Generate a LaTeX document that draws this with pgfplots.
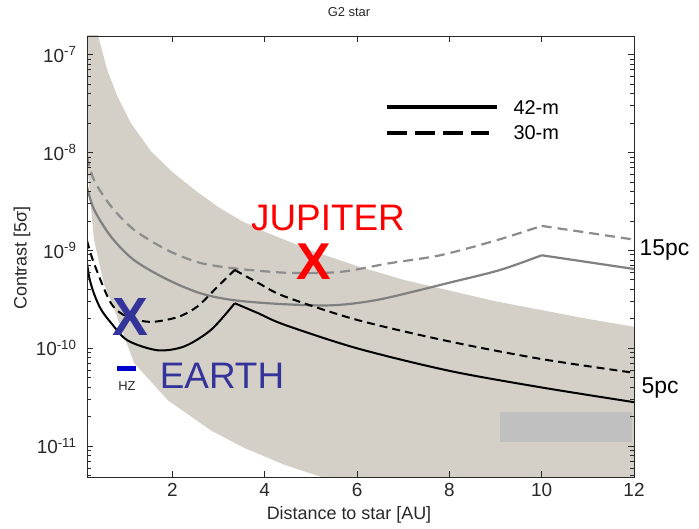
\documentclass[border=0pt]{standalone}
\usepackage{pgfplots}
\pgfplotsset{compat=1.18}
\usepackage{fontspec}
\setmainfont{Liberation Sans}
\definecolor{band}{RGB}{212,208,200}
\definecolor{rectgray}{RGB}{192,192,192}
\definecolor{curvegray}{RGB}{128,128,128}
\definecolor{dashgray}{RGB}{140,140,140}
\definecolor{earthblue}{RGB}{51,51,153}
\definecolor{hzblue}{RGB}{0,0,204}
\definecolor{axgray}{RGB}{40,40,40}
\begin{document}
\begin{tikzpicture}[x=1bp,y=1bp]
\useasboundingbox (0,0) rectangle (699,529);
\begin{axis}[
  at={(87bp,52bp)}, anchor=south west,
  scale only axis, width=547bp, height=441bp,
  xmin=0.15, xmax=12,
  ymode=log, ymin=4.85e-12, ymax=1.545e-7,
  axis on top,
  axis line style={axgray, line width=0.9bp},
  every tick/.style={axgray, line width=0.7bp},
  major tick length=6bp, minor tick length=4bp,
  xtick={2,4,6,8,10,12},
  xticklabels={2,4,6,8,10,12},
  minor xtick={},
  ytick={1e-11,1e-10,1e-9,1e-8,1e-7},
  yticklabels={10\textsuperscript{-11},10\textsuperscript{-10},10\textsuperscript{-9},10\textsuperscript{-8},10\textsuperscript{-7}},
  minor ytick={5e-12,6e-12,7e-12,8e-12,9e-12,2e-11,3e-11,4e-11,5e-11,6e-11,7e-11,8e-11,9e-11,2e-10,3e-10,4e-10,5e-10,6e-10,7e-10,8e-10,9e-10,2e-9,3e-9,4e-9,5e-9,6e-9,7e-9,8e-9,9e-9,2e-8,3e-8,4e-8,5e-8,6e-8,7e-8,8e-8,9e-8},
  tick label style={font=\fontsize{19}{22}\selectfont, text=axgray},
  yticklabel style={xshift=-7bp},
  xticklabel style={yshift=-3bp},
]
% gray band
\addplot[fill=band, draw=none] coordinates {
 (0.10,2.0e-6) (0.15,1.072e-6) (0.3,2.692e-7) (0.41,1.445e-7) (0.59,6.918e-8)
 (0.81,3.715e-8) (1.1,1.995e-8) (1.54,1.023e-8) (2.0,6.31e-9) (2.5,4.074e-9)
 (3.0,2.754e-9) (3.5,1.995e-9) (4.0,1.549e-9) (5.0,1.0e-9) (6.0,6.918e-10)
 (7.0,5.012e-10) (8.0,3.89e-10) (9.0,3.02e-10) (10.0,2.455e-10) (11.0,1.995e-10)
 (12.0,1.66e-10) (12.5,1.5e-10)
 (12.5,1e-12) (6.0,3.8e-12) (5.2,4.9e-12) (4.43,6.457e-12) (3.57,9.55e-12)
 (2.84,1.445e-11) (1.9,2.951e-11) (1.17,7.079e-11) (0.7,2.818e-10)
 (0.52,4.5e-10) (0.30,1.288e-9) (0.15,7.94e-9) (0.10,1.5e-8)
};
% gray rectangle
\addplot[fill=rectgray, draw=none] coordinates {
 (9.09,1.1e-11) (11.96,1.1e-11) (11.96,2.24e-11) (9.09,2.24e-11)
};
% 30-m 15pc (gray dashed)
\addplot[dashgray, line width=2.2bp, dash pattern=on 10bp off 6bp, smooth] coordinates {
 (0.15,9.12e-9) (0.30,5.248e-9) (0.67,2.818e-9) (1.17,1.622e-9) (1.90,1.0e-9)
 (2.62,7.413e-10) (3.46,6.457e-10) (4.54,5.888e-10) (5.63,6.026e-10)
 (6.72,7.413e-10) (7.8,8.913e-10) (9,1.259e-9) (10,1.778e-9)
};
\addplot[dashgray, line width=2.2bp, dash pattern=on 10bp off 6bp] coordinates {
 (10,1.778e-9) (11,1.514e-9) (12,1.288e-9)
};
% 42-m 15pc (gray solid)
\addplot[curvegray, line width=2.2bp, smooth] coordinates {
 (0.15,4.467e-9) (0.30,2.630e-9) (0.67,1.380e-9) (1.17,7.943e-10) (1.90,5.012e-10)
 (2.62,3.631e-10) (3.35,3.09e-10) (4.43,2.818e-10) (5.5,2.754e-10) (6.5,3.162e-10)
 (8.0,4.677e-10) (9.1,6.31e-10) (10,8.913e-10)
};
\addplot[curvegray, line width=2.2bp] coordinates {
 (10,8.913e-10) (11,7.586e-10) (12,6.457e-10)
};
% 30-m 5pc (black dashed)
\addplot[black, line width=2bp, dash pattern=on 8bp off 5bp, smooth] coordinates {
 (0.15,1.259e-9) (0.30,7.413e-10) (0.67,2.884e-10) (1.03,2.089e-10) (1.54,1.862e-10)
 (2.12,2.089e-10) (2.55,2.692e-10) (2.98,4.266e-10) (3.35,6.31e-10)
};
\addplot[black, line width=2bp, dash pattern=on 8bp off 5bp, smooth] coordinates {
 (3.35,6.31e-10) (3.85,4.677e-10) (4.43,3.388e-10) (6,1.950e-10) (8,1.175e-10)
 (10,7.762e-11) (12,5.623e-11)
};
% 42-m 5pc (black solid)
\addplot[black, line width=2bp, smooth] coordinates {
 (0.15,7.413e-10) (0.20,5.248e-10) (0.30,3.631e-10) (0.45,2.512e-10) (0.67,1.820e-10)
 (1.03,1.202e-10) (1.68,9.55e-11) (2.26,1.047e-10) (2.84,1.549e-10) (3.35,2.884e-10)
};
\addplot[black, line width=2bp, smooth] coordinates {
 (3.35,2.884e-10) (3.85,2.291e-10) (4.43,1.738e-10) (6,1.0e-10) (8,5.888e-11)
 (10,3.981e-11) (12,2.818e-11)
};
% habitable zone bar
\addplot[hzblue, line width=5bp] coordinates {(0.8,6.166e-11) (1.22,6.166e-11)};
% legend samples
\addplot[black, line width=4bp] coordinates {(6.64,2.88e-8) (9.03,2.88e-8)};
\addplot[black, line width=4bp, dash pattern=on 20bp off 8bp] coordinates {(6.64,1.585e-8) (8.85,1.585e-8)};
\end{axis}
\node[font=\fontsize{13}{15}\selectfont, text=axgray] at (349,517) {G2 star};
\node[rotate=90, font=\fontsize{18}{21}\selectfont, text=axgray] at (22,271) {Contrast [5σ]};
\node[font=\fontsize{18}{21}\selectfont, text=axgray] at (349,14) {Distance to star [AU]};
\node[text=red, font=\fontsize{37}{40}\selectfont] at (328,311) {JUPITER};
\node[text=red, font=\fontsize{52}{56}\selectfont\bfseries] at (314,267) {X};
\node[text=earthblue, font=\fontsize{54}{58}\selectfont\bfseries] at (130,212) {X};
\node[text=earthblue, font=\fontsize{37}{40}\selectfont] at (222,153) {EARTH};
\node[text=axgray, font=\fontsize{13}{15}\selectfont] at (127,143) {HZ};
\node[anchor=west, font=\fontsize{20}{23}\selectfont] at (510,421) {42-m};
\node[anchor=west, font=\fontsize{20}{23}\selectfont] at (510,396) {30-m};
\node[anchor=west, font=\fontsize{23}{26}\selectfont] at (636,279) {15pc};
\node[anchor=west, font=\fontsize{23}{26}\selectfont] at (638,141) {5pc};
\end{tikzpicture}
\end{document}
